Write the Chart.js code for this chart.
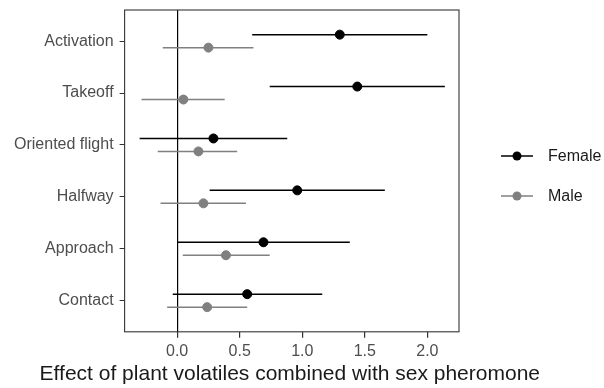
<!DOCTYPE html>
<html>
<head>
<meta charset="utf-8">
<script src="https://cdn.jsdelivr.net/npm/chart.js@4/dist/chart.umd.min.js"></script>
<style>
  html, body { margin: 0; padding: 0; background: #fff; }
  #wrap { width: 604px; height: 388px; position: relative; }
</style>
</head>
<body>
<div id="wrap"><canvas id="chart"></canvas></div>
<script>
const categories = ['Activation', 'Takeoff', 'Oriented flight', 'Halfway', 'Approach', 'Contact'];
const femaleEst  = [1.30, 1.44, 0.29, 0.96, 0.69, 0.56];
const femaleLow  = [0.60, 0.74, -0.30, 0.26, 0.005, -0.035];
const femaleHigh = [2.00, 2.14, 0.88, 1.66, 1.38, 1.16];
const maleEst    = [0.25, 0.05, 0.17, 0.21, 0.39, 0.24];
const maleLow    = [-0.115, -0.285, -0.155, -0.133, 0.045, -0.08];
const maleHigh   = [0.61, 0.38, 0.48, 0.55, 0.74, 0.56];
const xTicks = [0, 0.5, 1, 1.5, 2];
const xTitle = 'Effect of plant volatiles combined with sex pheromone';

const FEMALE = '#000000';
const MALE = '#808080';
const DODGE = 0.125;

const whiskers = (low, high, offset, color) => low.map((lo, i) => ({
    type: 'line',
    label: '_bar',
    data: [{ x: lo, y: i + 1 + offset }, { x: high[i], y: i + 1 + offset }],
    borderColor: color,
    borderWidth: 1.5,
    pointRadius: 0,
    order: 2
}));

const points = (label, est, offset, color) => ({
    type: 'scatter',
    label,
    data: est.map((v, i) => ({ x: v, y: i + 1 + offset })),
    backgroundColor: color,
    borderColor: color,
    pointRadius: 4.5,
    pointHoverRadius: 4.5,
    order: 1
});

const panelBorder = {
    id: 'panelBorder',
    afterDraw(chart) {
        const { ctx, chartArea: a } = chart;
        ctx.save();
        ctx.strokeStyle = '#333333';
        ctx.lineWidth = 1.1;
        ctx.strokeRect(a.left, a.top, a.right - a.left, a.bottom - a.top);
        ctx.restore();
    }
};

// x axis title is wider than the panel, so Chart.js would squeeze it; draw it here instead
const wideTitle = {
    id: 'wideTitle',
    afterDraw(chart) {
        const { ctx, chartArea: a } = chart;
        ctx.save();
        ctx.fillStyle = '#1a1a1a';
        ctx.font = '21px "Liberation Sans"';
        ctx.textAlign = 'center';
        ctx.textBaseline = 'alphabetic';
        ctx.fillText(xTitle, (a.left + a.right) / 2 - 2, 380);
        ctx.restore();
    }
};

// ggplot style legend on the right: line with a dot, then the label
const keyLegend = {
    id: 'keyLegend',
    afterDraw(chart) {
        const { ctx } = chart;
        const entries = chart.data.datasets.filter(d => d.label !== '_bar');
        ctx.save();
        entries.forEach((d, i) => {
            const y = 156 + i * 40;
            ctx.strokeStyle = d.borderColor;
            ctx.lineWidth = 1.5;
            ctx.beginPath(); ctx.moveTo(501, y); ctx.lineTo(533, y); ctx.stroke();
            ctx.fillStyle = d.backgroundColor;
            ctx.beginPath(); ctx.arc(517, y, 4.5, 0, Math.PI * 2); ctx.fill();
            ctx.fillStyle = '#1a1a1a';
            ctx.font = '16px "Liberation Sans"';
            ctx.textBaseline = 'middle';
            ctx.fillText(d.label, 548, y + 1);
        });
        ctx.restore();
    }
};

const datasets = [
    points('Female', femaleEst, -DODGE, FEMALE),
    points('Male', maleEst, DODGE, MALE),
    ...whiskers(femaleLow, femaleHigh, -DODGE, FEMALE),
    ...whiskers(maleLow, maleHigh, DODGE, MALE)
];

new Chart('chart', {
    data: { datasets },
    options: {
        responsive: true,
        maintainAspectRatio: false,
        animation: false,
        events: [],
        layout: { padding: { top: 10, right: 145, left: 8, bottom: 23 } },
        plugins: {
            tooltip: { enabled: false },
            legend: { display: false }
        },
        scales: {
            x: {
                type: 'linear',
                min: -0.42,
                max: 2.253,
                afterBuildTicks: axis => { axis.ticks = xTicks.map(v => ({ value: v })); },
                ticks: {
                    callback: v => v.toFixed(1),
                    color: '#4d4d4d',
                    font: { family: 'Liberation Sans', size: 16 },
                    padding: 4,
                    maxRotation: 0
                },
                grid: {
                    drawOnChartArea: true,
                    color: ctx => ctx.tick && ctx.tick.value === 0 ? '#000000' : 'rgba(0,0,0,0)',
                    lineWidth: 1.2,
                    tickColor: '#333333',
                    tickLength: 6
                },
                border: { display: false }
            },
            y: {
                type: 'linear',
                reverse: true,
                min: 0.4,
                max: 6.6,
                afterBuildTicks: axis => { axis.ticks = categories.map((c, i) => ({ value: i + 1 })); },
                // the end ticks sit well inside the range, so no room is needed for half a label
                afterFit: axis => { axis.paddingTop = 0; axis.paddingBottom = 0; },
                ticks: {
                    callback: v => categories[v - 1],
                    color: '#4d4d4d',
                    font: { family: 'Liberation Sans', size: 16 },
                    padding: 6
                },
                grid: {
                    drawOnChartArea: false,
                    tickColor: '#333333',
                    tickLength: 5
                },
                border: { display: false }
            }
        }
    },
    plugins: [panelBorder, wideTitle, keyLegend]
});
</script>
</body>
</html>
